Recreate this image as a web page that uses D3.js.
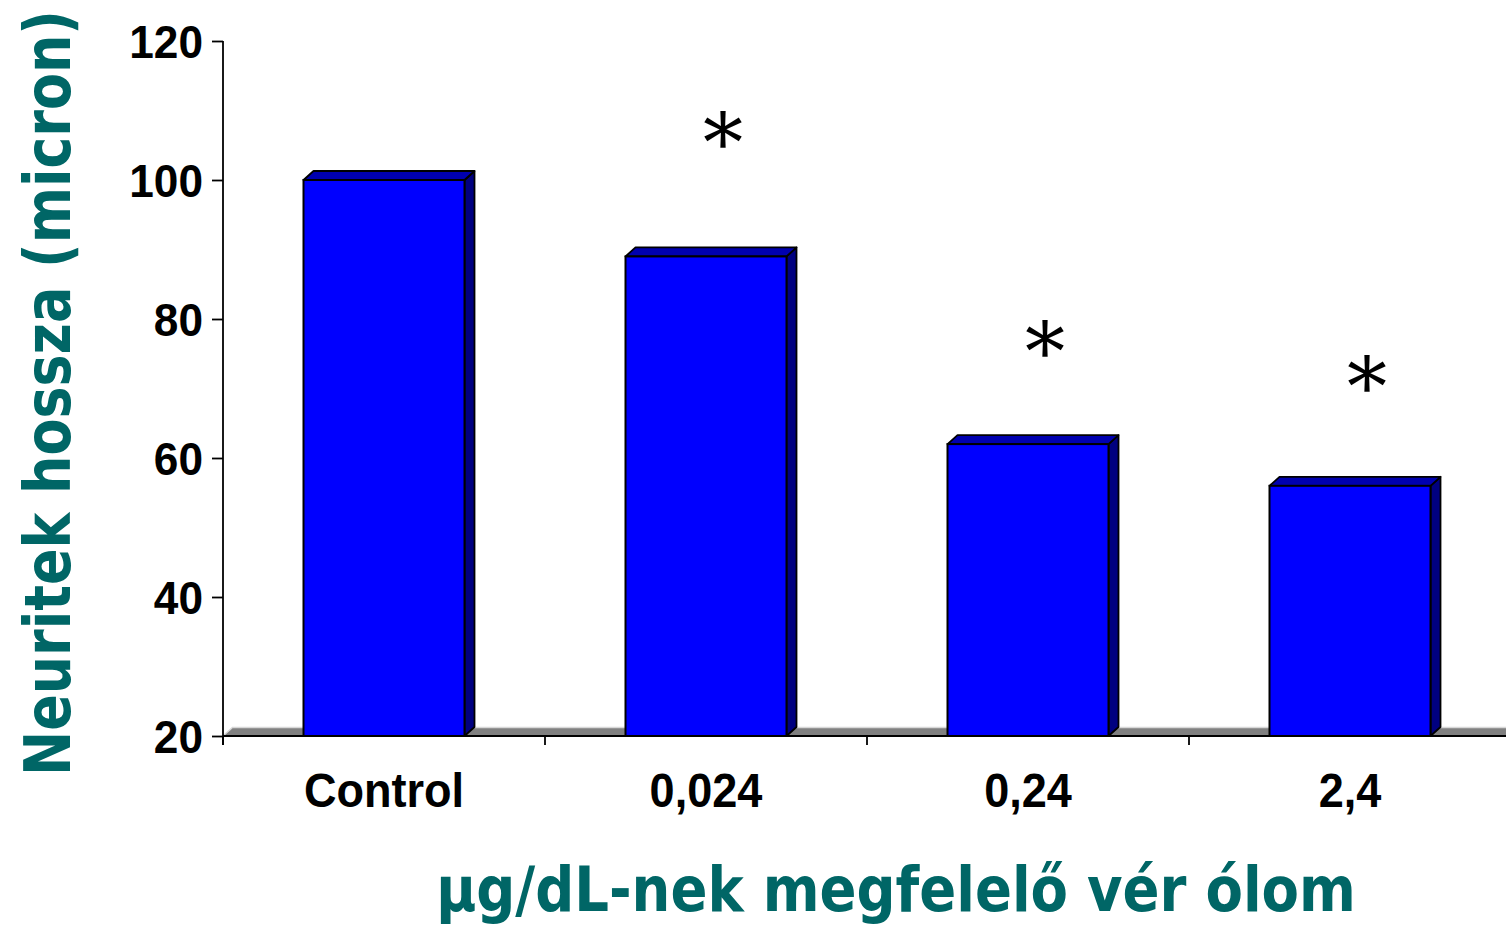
<!DOCTYPE html>
<html>
<head>
<meta charset="utf-8">
<script src="https://cdn.jsdelivr.net/npm/d3@7"></script>
<style>
  html, body { margin: 0; padding: 0; background: #fff; }
  svg { display: block; }
</style>
</head>
<body>
<svg id="chart" width="1506" height="928"></svg>
<script>
// Neurite length by lead concentration
const categories = ["Control", "0,024", "0,24", "2,4"];
const neuriteLength = [100, 89, 62, 56];
// level (in axis units) at which a significance mark is shown; null = none
const significance = [null, 107, 77, 72];
const yTicks = [20, 40, 60, 80, 100, 120];
const yTitle = "Neuritek hossza (micron)";
const xTitle = "\u03bcg/dL-nek megfelelő vér ólom";

const svg = d3.select("#chart");
const W = 1506, H = 928;
const plotLeft = 223, plotRight = 1511, plotBottom = 736, plotTop = 41;
const depthX = 10, depthY = 9;

const x = d3.scaleBand().domain(categories).range([plotLeft, plotRight])
  .paddingInner(0.5).paddingOuter(0.25);
const y = d3.scaleLinear().domain([20, 120]).range([plotBottom, plotTop]);

const teal = "#006666";
const tickFont = "'Liberation Sans', Arial, sans-serif";
const titleFont = "'DejaVu Sans', 'Noto Sans', sans-serif";

// floor of the 3D plot area
const floor = svg.append("g");
floor.append("polygon")
  .attr("points", [[plotLeft, plotBottom], [plotLeft + depthX, plotBottom - depthY],
                   [W + depthX, plotBottom - depthY], [W, plotBottom]].join(" "))
  .attr("fill", "#808080");
floor.append("line")
  .attr("x1", plotLeft + depthX).attr("x2", W)
  .attr("y1", plotBottom - depthY + 0.5).attr("y2", plotBottom - depthY + 0.5)
  .attr("stroke", "#d8d8d8").attr("stroke-width", 1.5);
floor.append("line")
  .attr("x1", plotLeft).attr("x2", plotLeft + depthX)
  .attr("y1", plotBottom).attr("y2", plotBottom - depthY)
  .attr("stroke", "#d8d8d8").attr("stroke-width", 1.5);

// 3D bars
const data = categories.map((c, i) => ({ c, v: neuriteLength[i], s: significance[i] }));
const bars = svg.append("g").selectAll("g").data(data).join("g");
bars.each(function(d) {
  const g = d3.select(this);
  const x0 = x(d.c), x1 = x(d.c) + x.bandwidth();
  const yt = y(d.v), yb = y(20);
  g.append("polygon")
    .attr("points", [[x1, yt], [x1 + depthX, yt - depthY], [x1 + depthX, yb - depthY], [x1, yb]].join(" "))
    .attr("fill", "#000080").attr("stroke", "#000").attr("stroke-width", 1.8)
    .attr("stroke-linejoin", "round");
  g.append("polygon")
    .attr("points", [[x0, yt], [x0 + depthX, yt - depthY], [x1 + depthX, yt - depthY], [x1, yt]].join(" "))
    .attr("fill", "#0000b0").attr("stroke", "#000").attr("stroke-width", 1.8)
    .attr("stroke-linejoin", "round");
  g.append("rect")
    .attr("x", x0).attr("y", yt).attr("width", x1 - x0).attr("height", yb - yt)
    .attr("fill", "#0000ff").attr("stroke", "#000").attr("stroke-width", 2);
});

// significance asterisks
svg.append("g").selectAll("text")
  .data(data.filter(d => d.s != null))
  .join("text")
  .attr("x", d => x(d.c) + x.bandwidth() / 2 + 17)
  .attr("y", d => y(d.s))
  .attr("dy", "0.5em")
  .attr("text-anchor", "middle")
  .attr("font-family", "'DejaVu Serif', serif")
  .attr("font-size", 80)
  .text("*");

// x axis baseline
svg.append("line")
  .attr("x1", plotLeft).attr("x2", W)
  .attr("y1", plotBottom).attr("y2", plotBottom)
  .attr("stroke", "#000").attr("stroke-width", 2);

// category boundary ticks
const boundaries = d3.range(categories.length + 1).map(i => plotLeft + i * x.step());
svg.append("g").selectAll("line").data(boundaries).join("line")
  .attr("x1", d => d).attr("x2", d => d)
  .attr("y1", plotBottom).attr("y2", plotBottom + 9)
  .attr("stroke", "#000").attr("stroke-width", 1.8);

// category labels
const xAxis = svg.append("g")
  .attr("transform", `translate(0,${plotBottom})`)
  .call(d3.axisBottom(x).tickSize(0).tickPadding(36));
xAxis.select(".domain").remove();
xAxis.selectAll("text")
  .attr("font-family", tickFont).attr("font-weight", "bold")
  .attr("font-size", 49).attr("fill", "#000")
  .each(function() {
    const t = d3.select(this);
    const yy = t.attr("y");
    t.attr("y", null).attr("transform", `translate(0,${yy}) scale(0.92,1)`);
  });

// y axis
const yAxis = svg.append("g")
  .attr("transform", `translate(${plotLeft},0)`)
  .call(d3.axisLeft(y).tickValues(yTicks).tickSize(11).tickSizeOuter(0).tickPadding(8));
yAxis.select(".domain").remove();
yAxis.selectAll(".tick line").attr("stroke", "#000").attr("stroke-width", 1.8);
yAxis.selectAll("text")
  .attr("font-family", tickFont).attr("font-weight", "bold")
  .attr("font-size", 47).attr("fill", "#000")
  .attr("x", null).attr("dy", "0.36em")
  .attr("transform", "translate(-20,0) scale(0.94,1)");
svg.append("line")
  .attr("x1", plotLeft).attr("x2", plotLeft)
  .attr("y1", plotTop).attr("y2", plotBottom + 9)
  .attr("stroke", "#000").attr("stroke-width", 1.8);

// axis titles, squeezed horizontally to their target run length
function fittedTitle(label, size, length, placement) {
  const t = svg.append("text")
    .attr("text-anchor", "middle")
    .attr("font-family", titleFont).attr("font-weight", "bold")
    .attr("font-size", size).attr("fill", teal)
    .text(label);
  const natural = t.node().getComputedTextLength();
  t.attr("transform", `${placement} scale(${length / natural},1)`);
  return t;
}
fittedTitle(yTitle, 64, 766, "translate(70,393) rotate(-90)");
fittedTitle(xTitle, 63, 920, "translate(896,911)");
</script>
</body>
</html>
